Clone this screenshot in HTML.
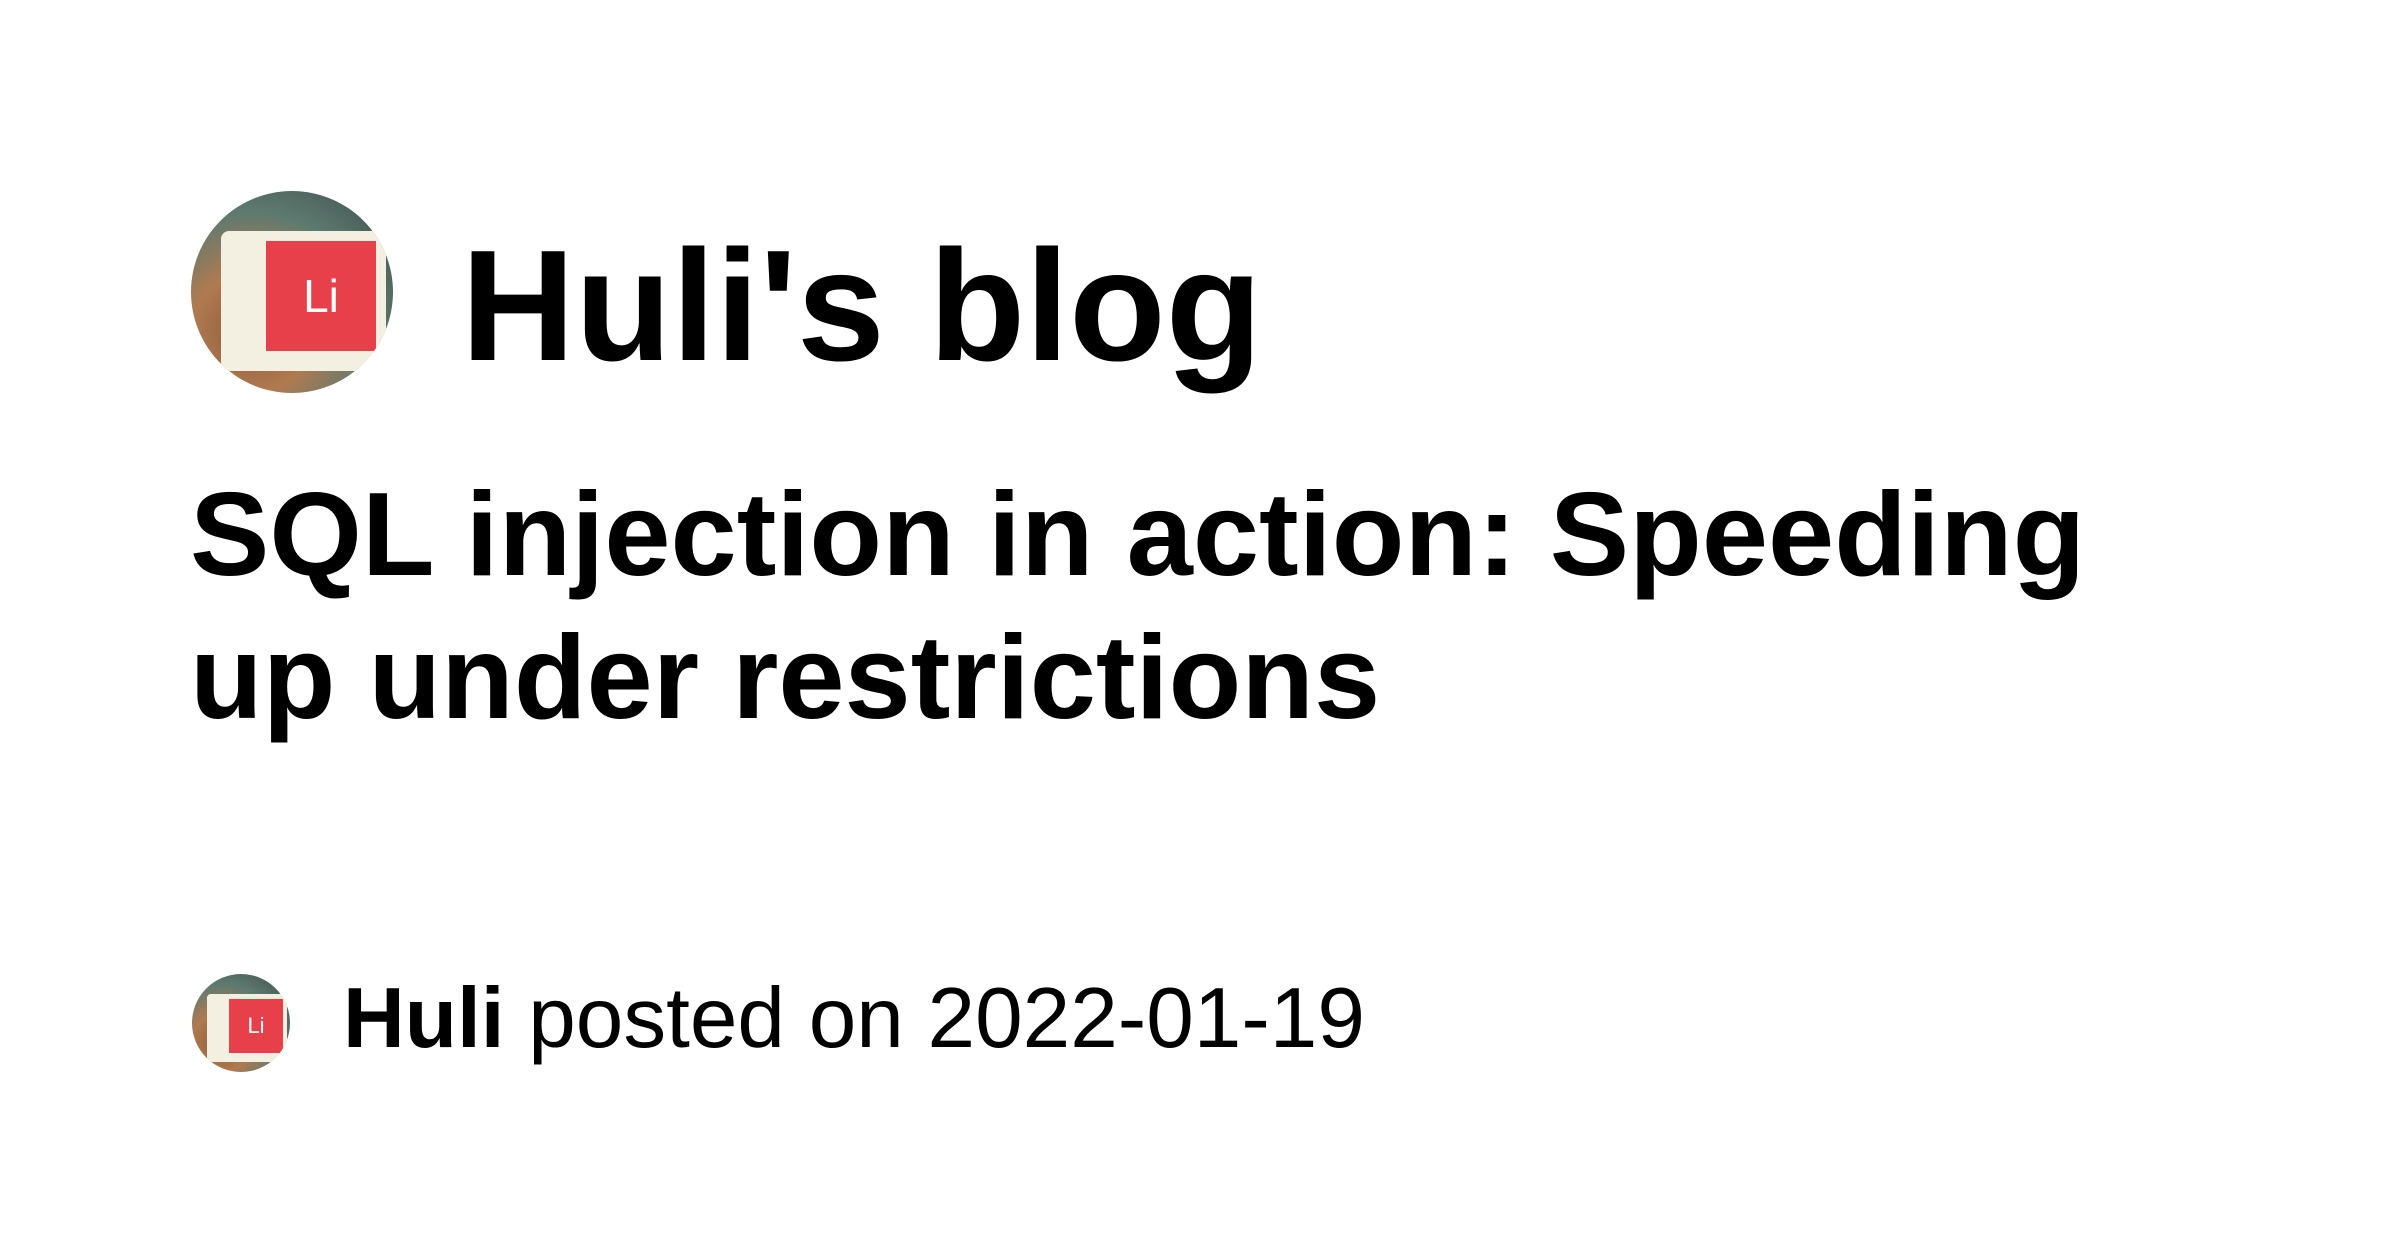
<!DOCTYPE html>
<html><head><meta charset="utf-8"><style>
html,body{margin:0;padding:0;background:#fff;width:2400px;height:1260px;overflow:hidden;font-family:"Liberation Sans",Arial,sans-serif;color:#000}
.av{position:absolute;border-radius:50%;overflow:hidden;background:radial-gradient(circle at 30% 70%,#8a5a3a 0%,#b07a50 30%,#5e7a70 60%,#3a4a48 100%)}
.mug{position:absolute;background:#f3f0e2}
.red{position:absolute;background:#e8404a;color:#fff;display:flex;align-items:center;justify-content:center;font-family:"Liberation Sans",sans-serif}
.t{position:absolute;font-weight:bold;white-space:nowrap}
</style></head><body>
<div class="av" style="left:191px;top:191px;width:202px;height:202px">
  <div class="mug" style="left:30px;top:40px;width:165px;height:140px;border-radius:8px"></div>
  <div class="red" style="left:75px;top:50px;width:110px;height:110px;font-size:46px">Li</div>
</div>
<div class="t" style="left:461px;top:216px;font-size:158px;line-height:180px">Huli's blog</div>
<div class="t" style="left:190px;top:463px;font-size:119px;line-height:143px;white-space:normal;width:2100px">SQL injection in action: Speeding<br>up under restrictions</div>
<div class="av" style="left:192px;top:974px;width:98px;height:98px">
  <div class="mug" style="left:15px;top:20px;width:80px;height:68px;border-radius:4px"></div>
  <div class="red" style="left:37px;top:25px;width:54px;height:54px;font-size:22px">Li</div>
</div>
<div class="t" style="left:343px;top:969px;font-size:85.5px;line-height:100px"><span>Huli</span><span style="font-weight:normal"> posted on 2022-01-19</span></div>
</body></html>
